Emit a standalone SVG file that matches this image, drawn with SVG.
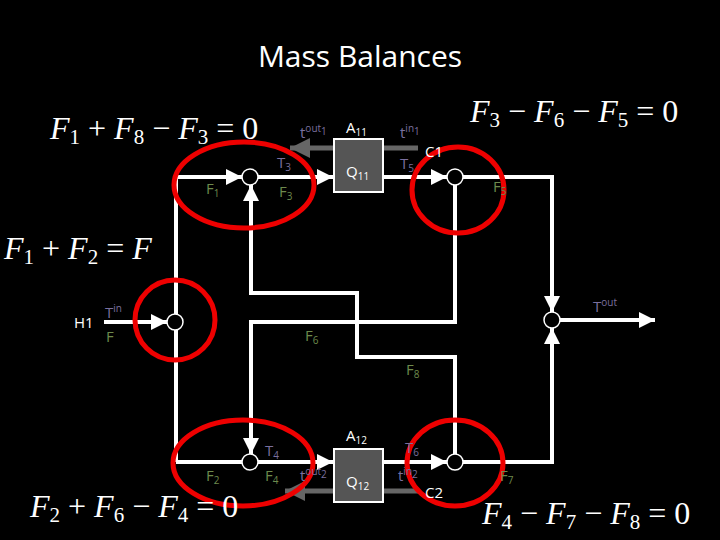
<svg xmlns="http://www.w3.org/2000/svg" width="720" height="540" viewBox="0 0 720 540">
<defs>
<marker id="wa" viewBox="0 0 10 10" refX="10" refY="5" markerWidth="4" markerHeight="4" orient="auto" markerUnits="strokeWidth"><path d="M0,0L10,5L0,10z" fill="#fff"/></marker>
<marker id="ga" viewBox="0 0 10 10" refX="10" refY="5" markerWidth="4" markerHeight="4" orient="auto" markerUnits="strokeWidth"><path d="M0,0L10,5L0,10z" fill="#666"/></marker>
</defs>
<style>
.ln{fill:none;stroke:#fff;stroke-width:4}
.ar{fill:none;stroke:#fff;stroke-width:4;marker-end:url(#wa)}
.gr{fill:none;stroke:#666;stroke-width:5;marker-end:url(#ga)}
.mx{fill:#000;stroke:#fff;stroke-width:1.5}
.box{fill:#555;stroke:#fff;stroke-width:2}
.red{fill:none;stroke:#e00;stroke-width:5}
.s{font-family:"Open Sans","Liberation Sans",Arial,sans-serif;font-size:15px}
.w{fill:#fff}.p{fill:#7a6f9e}.g{fill:#6d8a4d}
.sub{font-size:10px}
.eq{font-family:"Liberation Serif",serif;font-size:32px;fill:#fff}
.eq tspan.i{font-style:italic}
.eq tspan.n{font-size:21px}
</style>
<rect width="720" height="540" fill="#000"/>
<text x="360" y="67" text-anchor="middle" font-family="Open Sans, Liberation Sans, sans-serif" font-size="30" fill="#fff">Mass Balances</text>
<g id="connectors">
<path class="ar" d="M176,462 V177 H242"/>
<path class="ln" d="M176,462 H242"/>
<path class="ar" d="M104,322 H167"/>
<path class="ar" d="M258,177 H333"/>
<path class="ar" d="M383,177 H447"/>
<path class="ar" d="M463,177 H552 V312"/>
<path class="ar" d="M258,462 H333"/>
<path class="ar" d="M383,462 H447"/>
<path class="ar" d="M463,462 H552 V328"/>
<path class="ar" d="M560,320 H655"/>
<path class="ar" d="M455,185 V322 H251 V454"/>
<path class="ar" d="M455,454 V357 H357 V293 H251 V185"/>
<path class="gr" d="M418,148 H290"/>
<path class="gr" d="M418,491 H285"/>
</g>
<g id="M1"><circle class="mx" cx="250" cy="177" r="8"/></g>
<g id="S1"><circle class="mx" cx="455" cy="177" r="8"/></g>
<g id="H1node"><circle class="mx" cx="175" cy="322" r="8"/></g>
<g id="Mout"><circle class="mx" cx="552" cy="320" r="8"/></g>
<g id="M2"><circle class="mx" cx="250" cy="462" r="8"/></g>
<g id="S2"><circle class="mx" cx="455" cy="462" r="8"/></g>
<g id="Q11"><rect class="box" x="334" y="139" width="49" height="53"/><text class="s w" x="346" y="177">Q<tspan class="sub" dy="3">11</tspan></text></g>
<g id="Q12"><rect class="box" x="334" y="449" width="49" height="53"/><text class="s w" x="346" y="487">Q<tspan class="sub" dy="3">12</tspan></text></g>
<g id="ellipses">
<ellipse class="red" cx="244" cy="185" rx="70" ry="43"/>
<ellipse class="red" cx="458" cy="190" rx="46" ry="43"/>
<circle class="red" cx="175" cy="320" r="40"/>
<ellipse class="red" cx="243" cy="463" rx="70" ry="43"/>
<ellipse class="red" cx="455" cy="463" rx="48" ry="43"/>
</g>
<g id="labels">
<text class="s p" x="300" y="138">t<tspan class="sub" dy="-6">out</tspan><tspan class="sub" dy="3">1</tspan></text>
<text class="s w" x="346" y="133">A<tspan class="sub" dy="3">11</tspan></text>
<text class="s p" x="400" y="138">t<tspan class="sub" dy="-6">in</tspan><tspan class="sub" dy="3">1</tspan></text>
<text class="s w" x="425" y="157">C1</text>
<text class="s p" x="277" y="168">T<tspan class="sub" dy="3">3</tspan></text>
<text class="s p" x="400" y="169">T<tspan class="sub" dy="3">5</tspan></text>
<text class="s g" x="206" y="194">F<tspan class="sub" dy="3">1</tspan></text>
<text class="s g" x="279" y="197">F<tspan class="sub" dy="3">3</tspan></text>
<text class="s g" x="493" y="192">F<tspan class="sub" dy="3">5</tspan></text>
<text class="s p" x="105" y="318">T<tspan class="sub" dy="-6">in</tspan></text>
<text class="s w" x="74" y="328">H1</text>
<text class="s g" x="106" y="342">F</text>
<text class="s g" x="305" y="341">F<tspan class="sub" dy="3">6</tspan></text>
<text class="s g" x="406" y="375">F<tspan class="sub" dy="3">8</tspan></text>
<text class="s p" x="593" y="312">T<tspan class="sub" dy="-6">out</tspan></text>
<text class="s w" x="346" y="441">A<tspan class="sub" dy="3">12</tspan></text>
<text class="s p" x="265" y="456">T<tspan class="sub" dy="3">4</tspan></text>
<text class="s p" x="405" y="453">T<tspan class="sub" dy="3">6</tspan></text>
<text class="s g" x="206" y="481">F<tspan class="sub" dy="3">2</tspan></text>
<text class="s g" x="265" y="481">F<tspan class="sub" dy="3">4</tspan></text>
<text class="s p" x="300" y="481">t<tspan class="sub" dy="-6">out</tspan><tspan class="sub" dy="3">2</tspan></text>
<text class="s p" x="398" y="481">t<tspan class="sub" dy="-6">in</tspan><tspan class="sub" dy="3">2</tspan></text>
<text class="s w" x="425" y="498">C2</text>
<text class="s g" x="500" y="481">F<tspan class="sub" dy="3">7</tspan></text>
</g>
<g id="equations">
<text class="eq" x="50" y="139"><tspan class="i">F</tspan><tspan class="n" dy="5">1</tspan><tspan dy="-5"> + </tspan><tspan class="i">F</tspan><tspan class="n" dy="5">8</tspan><tspan dy="-5"> − </tspan><tspan class="i">F</tspan><tspan class="n" dy="5">3</tspan><tspan dy="-5"> = 0</tspan></text>
<text class="eq" x="470" y="122"><tspan class="i">F</tspan><tspan class="n" dy="5">3</tspan><tspan dy="-5"> − </tspan><tspan class="i">F</tspan><tspan class="n" dy="5">6</tspan><tspan dy="-5"> − </tspan><tspan class="i">F</tspan><tspan class="n" dy="5">5</tspan><tspan dy="-5"> = 0</tspan></text>
<text class="eq" x="4" y="259"><tspan class="i">F</tspan><tspan class="n" dy="5">1</tspan><tspan dy="-5"> + </tspan><tspan class="i">F</tspan><tspan class="n" dy="5">2</tspan><tspan dy="-5"> = </tspan><tspan class="i">F</tspan></text>
<text class="eq" x="30" y="517"><tspan class="i">F</tspan><tspan class="n" dy="5">2</tspan><tspan dy="-5"> + </tspan><tspan class="i">F</tspan><tspan class="n" dy="5">6</tspan><tspan dy="-5"> − </tspan><tspan class="i">F</tspan><tspan class="n" dy="5">4</tspan><tspan dy="-5"> = 0</tspan></text>
<text class="eq" x="482" y="524"><tspan class="i">F</tspan><tspan class="n" dy="5">4</tspan><tspan dy="-5"> − </tspan><tspan class="i">F</tspan><tspan class="n" dy="5">7</tspan><tspan dy="-5"> − </tspan><tspan class="i">F</tspan><tspan class="n" dy="5">8</tspan><tspan dy="-5"> = 0</tspan></text>
</g>
</svg>
